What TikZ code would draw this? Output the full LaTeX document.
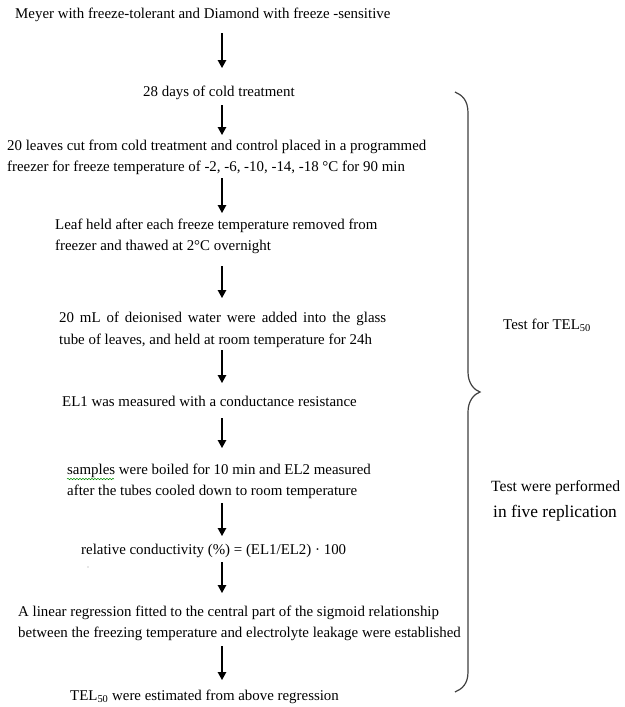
\documentclass[tikz,border=0pt]{standalone}
\usepackage{fontspec}
\setmainfont{Liberation Serif}
\usetikzlibrary{arrows.meta,decorations.pathmorphing}
\begin{document}
\begin{tikzpicture}[x=1pt,y=-1pt,
  txt/.style={anchor=west,inner sep=0pt,align=left,font=\fontsize{14.9}{21.5}\selectfont},
  flow/.style={line width=1.3pt,-{Triangle[length=8pt,width=8.5pt]}},
  bracestyle/.style={line width=1.2pt,draw=black!75}]
\useasboundingbox (0,0) rectangle (624,707);
\fill[white] (0,0) rectangle (624,707);
\node[txt] (s1) at (15,15) {Meyer with freeze-tolerant and Diamond with freeze -sensitive};
\node[txt] (s2) at (143,93) {28 days of cold treatment};
\node[txt] (s3) at (7,157.5) {20 leaves cut from cold treatment and control placed in a programmed\\freezer for freeze temperature of -2, -6, -10, -14, -18 °C for 90 min};
\node[txt] (s4) at (55,236.5) {Leaf held after each freeze temperature removed from\\freezer and thawed at 2°C overnight};
\node[txt] (s5) at (59,330) {\makebox[327pt][s]{20 mL of deionised water were added into the glass}\\tube of leaves, and held at room temperature for 24h};
\node[txt] (s6) at (62,401) {EL1 was measured with a conductance resistance};
\node[txt] (s7) at (67,481.5) {samples were boiled for 10 min and EL2 measured\\after the tubes cooled down to room temperature};
\node[txt] (s8) at (81,551) {relative conductivity (\%) = (EL1/EL2) · 100};
\node[txt] (s9) at (18,623.5) {A linear regression fitted to the central part of the sigmoid relationship\\between the freezing temperature and electrolyte leakage were established};
\node[txt] (s10) at (70,697) {TEL\textsubscript{50} were estimated from above regression};
\node[txt] (l1) at (503,325) {Test for TEL\textsubscript{50}};
\node[txt,font=\fontsize{15.6}{20}\selectfont] (l2) at (491,488) {Test were performed};
\node[txt,font=\fontsize{17.4}{20}\selectfont] (l3) at (493,513) {in five replication};
% arrow end points
\coordinate (a1s) at (222,33);  \coordinate (a1e) at (222,68);
\coordinate (a2s) at (222,105); \coordinate (a2e) at (222,135);
\coordinate (a3s) at (222,178); \coordinate (a3e) at (222,213);
\coordinate (a4s) at (222,266); \coordinate (a4e) at (222,298);
\coordinate (a5s) at (222,350); \coordinate (a5e) at (222,383);
\coordinate (a6s) at (222,418); \coordinate (a6e) at (222,448);
\coordinate (a7s) at (222,503); \coordinate (a7e) at (222,536);
\coordinate (a8s) at (222,562); \coordinate (a8e) at (222,593);
\coordinate (a9s) at (222,646); \coordinate (a9e) at (222,680);
\foreach \i in {1,...,9} {\draw[flow] (a\i s) -- (a\i e);}
% brace
\draw[bracestyle] (455,92) .. controls (462,95) and (468,100) .. (468,113) -- (468,372)
  .. controls (468,383) and (474,390) .. (480,392)
  .. controls (474,394) and (468,401) .. (468,412) -- (468,672)
  .. controls (468,684) and (462,689) .. (455,692);
% spell-check underline and stray dot
\draw[green!55!black,line width=0.5pt,decorate,decoration={snake,amplitude=0.7pt,segment length=3pt}] (67,479) -- (114,479);
\fill[black!40] (88,567) circle (0.7);
\end{tikzpicture}
\end{document}
